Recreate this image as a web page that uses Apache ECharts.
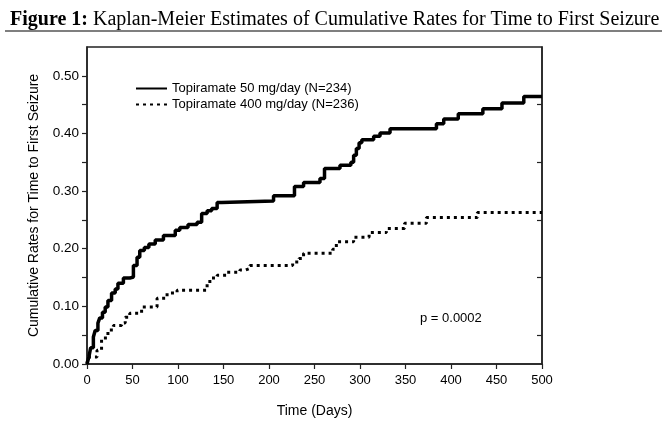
<!DOCTYPE html>
<html>
<head>
<meta charset="utf-8">
<script src="https://cdn.jsdelivr.net/npm/echarts@6/dist/echarts.min.js"></script>
<style>html,body{margin:0;padding:0;background:#fff;}#c{width:666px;height:429px;}</style>
</head>
<body>
<div id="c"></div>
<script>
// ---- data ----
const titleBold = 'Figure 1:';
const titleRest = ' Kaplan-Meier Estimates of Cumulative Rates for Time to First Seizure';
const xTicks = [0, 50, 100, 150, 200, 250, 300, 350, 400, 450, 500];
const yTicks = [0, 0.1, 0.2, 0.3, 0.4, 0.5];
const seriesNames = ['Topiramate 50 mg/day (N=234)', 'Topiramate 400 mg/day (N=236)'];
const days50 = [0,2,4,7,9,12,14,17,20,23,27,31,34,40,47,51,55,58,63,68,75,84,97,102,111,121,126,132,137,143,148,205,228,238,256,261,278,290,293,296,299,302,315,322,333,384,392,408,435,456,480,500];
const rates50 = [0,0.012,0.028,0.047,0.058,0.071,0.08,0.09,0.099,0.11,0.123,0.13,0.14,0.149,0.151,0.171,0.185,0.197,0.202,0.208,0.215,0.223,0.232,0.237,0.242,0.246,0.261,0.266,0.27,0.28,0.283,0.292,0.308,0.315,0.322,0.339,0.345,0.35,0.362,0.374,0.384,0.389,0.395,0.401,0.408,0.417,0.425,0.434,0.443,0.453,0.464,0.464];
const days400 = [0,1,11,16,23,29,38,42,47,60,77,88,99,132,135,143,154,168,174,179,226,233,238,270,274,293,310,329,349,373,429,500];
const rates400 = [0,0.012,0.024,0.045,0.059,0.067,0.071,0.081,0.088,0.099,0.114,0.123,0.128,0.14,0.149,0.154,0.159,0.163,0.166,0.171,0.177,0.183,0.192,0.199,0.212,0.22,0.228,0.235,0.244,0.254,0.263,0.263];
const pText = 'p = 0.0002';

const chart = echarts.init(document.getElementById('c'), null, {renderer: 'canvas'});
const sans = '"Liberation Sans", Arial, sans-serif';
const serif = '"Liberation Serif", "Times New Roman", serif';
const axisColor = '#222';

const option = {
  backgroundColor: '#fff',
  animation: false,
  title: {
    text: '{b|' + titleBold + '}{n|' + titleRest + '}',
    left: 5, top: 5,
    textStyle: {
      fontWeight: 'normal',
      rich: {
        b: {fontFamily: serif, fontWeight: 'bold', fontSize: 20, color: '#000'},
        n: {fontFamily: serif, fontWeight: 'normal', fontSize: 20, color: '#000'}
      }
    }
  },
  legend: {
    orient: 'vertical', left: 130, top: 77,
    itemWidth: 31, itemHeight: 10, itemGap: 3,
    itemStyle: {color: 'rgba(0,0,0,0)', borderWidth: 0, opacity: 0},
    textStyle: {fontFamily: sans, fontSize: 13, color: '#000'},
    data: seriesNames
  },
  grid: {left: 87, right: 124, top: 47, bottom: 65, show: true, borderColor: axisColor, borderWidth: 1.5},
  xAxis: [{
    type: 'value', min: 0, max: 500, interval: 50,
    name: 'Time (Days)', nameLocation: 'middle', nameGap: 40,
    nameTextStyle: {fontFamily: sans, fontSize: 14, color: '#000'},
    axisLine: {lineStyle: {color: axisColor, width: 1.5}},
    axisTick: {show: true, length: 5, lineStyle: {color: axisColor, width: 1.2}},
    axisLabel: {fontFamily: sans, fontSize: 13, color: '#000', margin: 10, customValues: xTicks},
    splitLine: {show: false}
  }],
  yAxis: [{
    type: 'value', min: 0, max: 0.55,
    name: 'Cumulative Rates for Time to First Seizure', nameLocation: 'middle', nameGap: 46,
    nameTextStyle: {fontFamily: sans, fontSize: 14, color: '#000'},
    axisLine: {show: true, lineStyle: {color: axisColor, width: 1.5}},
    axisTick: {show: true, length: 5, customValues: [0,0.05,0.1,0.15,0.2,0.25,0.3,0.35,0.4,0.45,0.5], lineStyle: {color: axisColor, width: 1.2}},
    axisLabel: {fontFamily: sans, fontSize: 13.5, color: '#000', margin: 8, customValues: yTicks, formatter: v => v.toFixed(2)},
    splitLine: {show: false}
  }, {
    type: 'value', min: 0, max: 0.55, position: 'right',
    axisLine: {show: true, lineStyle: {color: axisColor, width: 1.5}},
    axisTick: {show: true, inside: true, length: 5, customValues: [0.05,0.15,0.25,0.35,0.45], lineStyle: {color: axisColor, width: 1.2}},
    axisLabel: {show: false},
    splitLine: {show: false}
  }],
  series: [{
    name: seriesNames[0], type: 'line', step: 'end', symbol: 'none',
    data: days50.map((d, i) => [d, rates50[i]]),
    lineStyle: {color: '#000', width: 3.5, type: 'solid'},
    itemStyle: {color: '#000'}
  }, {
    name: seriesNames[1], type: 'line', step: 'end', symbol: 'none',
    data: days400.map((d, i) => [d, rates400[i]]),
    lineStyle: {color: '#000', width: 3, type: [3, 4]},
    itemStyle: {color: '#000'}
  }],
  graphic: [{
    type: 'line', shape: {x1: 5, y1: 31, x2: 662, y2: 31}, style: {stroke: '#000', lineWidth: 1.2}
  }, {
    type: 'text', left: 420, top: 312,
    style: {text: pText, font: '13px ' + sans, fill: '#000'}
  }]
};
chart.setOption(option);
</script>
</body>
</html>
